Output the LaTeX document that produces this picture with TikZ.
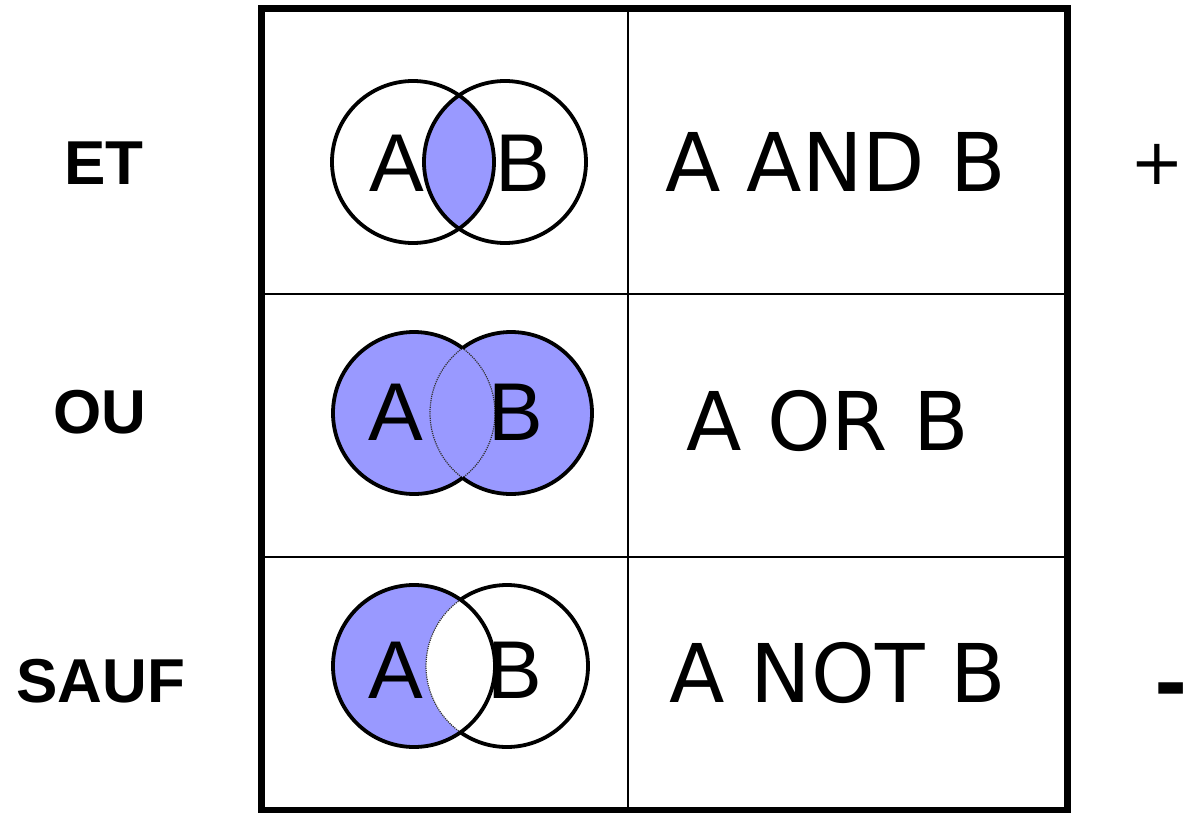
\documentclass[tikz,border=0pt]{standalone}
\usepackage{fontspec}
\setmainfont{Liberation Sans}
\newfontfamily\dejavu{DejaVu Sans}
\definecolor{vennfill}{RGB}{153,153,255}
\begin{document}
\begin{tikzpicture}[x=1pt,y=-1pt,
  frame/.style={line width=7pt},
  divider/.style={line width=2.5pt},
  circ/.style={line width=3.8pt},
  thinarc/.style={line width=1.2pt, draw=black!80},
  setlbl/.style={inner sep=0pt, anchor=base, font=\fontsize{82}{90}\selectfont},
  oplbl/.style={inner sep=0pt, anchor=base, font=\dejavu\fontsize{81}{90}\selectfont},
  rowlbl/.style={inner sep=0pt, anchor=base, font=\bfseries\fontsize{62}{70}\selectfont},
]
\useasboundingbox (0,0) rectangle (1186,813);
% table
\draw[frame] (261.5,8.5) rectangle (1067,810);
\draw[divider] (628,8.5) -- (628,810);
\draw[divider] (261.5,294) -- (1067,294);
\draw[divider] (261.5,557) -- (1067,557);

% ---- Row 1: AND ----
\coordinate (a1) at (413,162);
\coordinate (b1) at (505,162);
\begin{scope}
  \clip (a1) circle (81);
  \fill[vennfill] (b1) circle (81);
\end{scope}
\draw[circ] (a1) circle (81);
\draw[circ] (b1) circle (81);
\node[setlbl] (A1) at (397,192) {A};
\node[setlbl] (B1) at (523,192) {B};

% ---- Row 2: OR ----
\coordinate (a2) at (414,413);
\coordinate (b2) at (511,413);
\fill[vennfill] (a2) circle (81);
\fill[vennfill] (b2) circle (81);
\draw[thinarc, densely dotted] (a2) circle (81);
\draw[thinarc, densely dotted] (b2) circle (81);
% outer arcs: half-angle acos(48.5/81)=53.2
\draw[circ] (a2) ++(53.2:81) arc[start angle=53.2, end angle=306.8, radius=81];
\draw[circ] (b2) ++(126.8:81) arc[start angle=126.8, end angle=-126.8, radius=81];
\node[setlbl] (A2) at (396,440) {A};
\node[setlbl] (B2) at (516,440) {B};

% ---- Row 3: NOT ----
\coordinate (a3) at (414,666);
\coordinate (b3) at (507,666);
\fill[vennfill] (a3) circle (81);
\begin{scope}
  \clip (a3) circle (81);
  \fill[white] (b3) circle (81);
\end{scope}
% half-angle acos(46.5/81)=55
\draw[thinarc, densely dotted] (b3) ++(125:81) arc[start angle=125, end angle=235, radius=81];
\draw[circ] (b3) ++(125:81) arc[start angle=125, end angle=-125, radius=81];
\draw[circ] (a3) circle (81);
\node[setlbl] (A3) at (396,698) {A};
\node[setlbl] (B3) at (515,698) {B};

% operator texts
\node[oplbl] (and) at (836,192) {A AND B};
\node[oplbl] (or) at (828,450) {A OR B};
\node[oplbl] (not) at (838,702) {A NOT B};

% row labels
\node[rowlbl] (et) at (104,185) {ET};
\node[rowlbl] (ou) at (100,433) {OU};
\node[rowlbl] (sauf) at (101,702) {SAUF};

% plus / minus
\node[inner sep=0pt, anchor=center, font=\dejavu\fontsize{64}{80}\selectfont] (plus) at (1157,164) {+};
\node[inner sep=0pt, anchor=center, font=\dejavu\bfseries\fontsize{80}{90}\selectfont] (minus) at (1171,697.5) {-};
\end{tikzpicture}
\end{document}
